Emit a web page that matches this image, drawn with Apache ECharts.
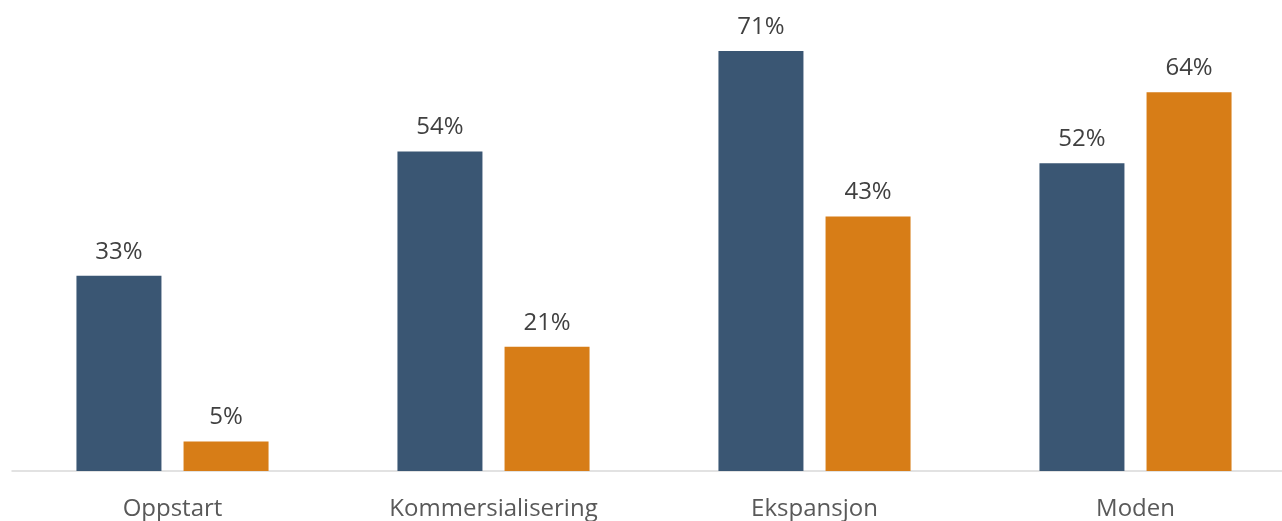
<!DOCTYPE html>
<html>
<head>
<meta charset="utf-8">
<script src="https://cdn.jsdelivr.net/npm/echarts@6/dist/echarts.min.js"></script>
<style>
html,body{margin:0;padding:0;background:#fff;overflow:hidden;width:1282px;height:521px;}
#chart{width:1310px;height:521px;}
</style>
</head>
<body>
<div id="chart"></div>
<script>
const categories = ['Oppstart', 'Kommersialisering', 'Ekspansjon', 'Moden'];
const seriesA = [33, 54, 71, 52];
const seriesB = [5, 21, 43, 64];

const chart = echarts.init(document.getElementById('chart'), null, {renderer: 'canvas'});
const labelStyle = {
  show: true,
  position: 'top',
  distance: 12,
  formatter: '{c}%',
  color: '#404040',
  fontSize: 24,
  fontFamily: 'Open Sans'
};
chart.setOption({
  animation: false,
  backgroundColor: '#ffffff',
  grid: {left: 12, right: 14, top: 0, bottom: 50, containLabel: false},
  xAxis: {
    type: 'category',
    data: categories,
    axisLine: {show: true, lineStyle: {color: '#d9d9d9', width: 1.5}},
    axisTick: {show: false},
    axisLabel: {margin: 26, color: '#595959', fontSize: 24, fontFamily: 'Open Sans', interval: 0}
  },
  yAxis: {
    type: 'value',
    min: 0,
    max: 79.6,
    show: false,
    splitLine: {show: false}
  },
  series: [
    {type: 'bar', data: seriesA, barWidth: 85, barGap: '26%', itemStyle: {color: '#3a5673'}, label: labelStyle},
    {type: 'bar', data: seriesB, barWidth: 85, barGap: '26%', itemStyle: {color: '#d77d17'}, label: labelStyle}
  ]
});
</script>
</body>
</html>
